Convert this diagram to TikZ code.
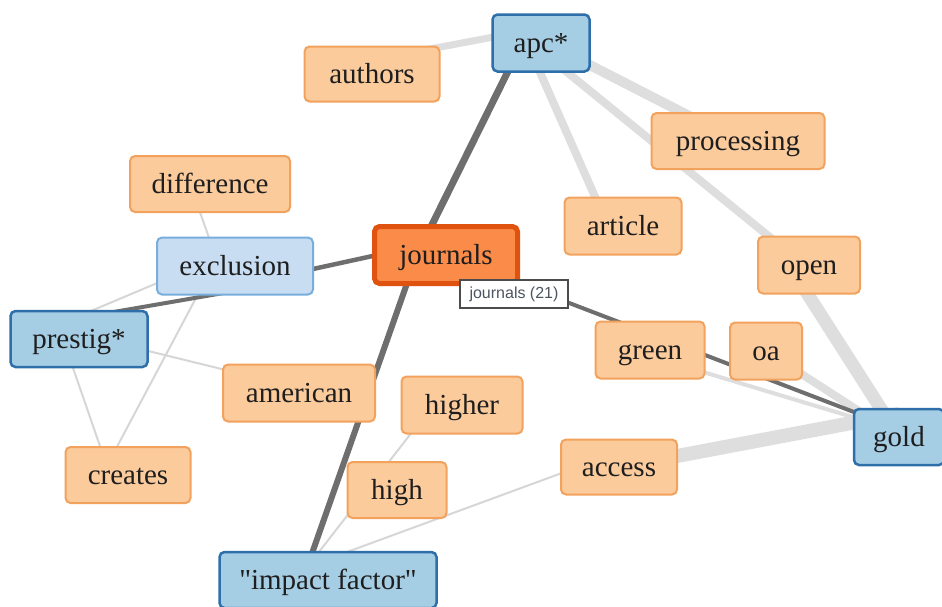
\documentclass[tikz,border=0pt]{standalone}
\usepackage{fontspec}
\setmainfont{Liberation Serif}
\newfontfamily\tipfont{Liberation Sans}
\usetikzlibrary{calc,backgrounds}
\definecolor{orfill}{HTML}{FBCB9C}
\definecolor{ordraw}{HTML}{F2A25C}
\definecolor{blfill}{HTML}{A5CDE4}
\definecolor{bldraw}{HTML}{2E6FAA}
\definecolor{lbfill}{HTML}{C9DDF2}
\definecolor{lbdraw}{HTML}{78AEDB}
\definecolor{jfill}{HTML}{FA8B48}
\definecolor{jdraw}{HTML}{E0520F}
\definecolor{txt}{HTML}{1E1E1E}
\definecolor{edark}{HTML}{6E6E6E}
\definecolor{elight}{HTML}{DEDEDE}
\definecolor{ethin}{HTML}{D6D6D6}
\definecolor{tiptxt}{HTML}{4A5560}
\tikzset{
  box/.style={rounded corners=5pt, inner sep=0pt, text=txt,
    font=\fontsize{29}{32}\selectfont, text height=20pt, text depth=2pt},
  term/.style={box, draw=ordraw, fill=orfill, line width=2pt},
  keyterm/.style={box, draw=bldraw, fill=blfill, line width=2.5pt},
  softterm/.style={box, draw=lbdraw, fill=lbfill, line width=2pt},
  hub/.style={box, draw=jdraw, fill=jfill, line width=5pt},
  tip/.style={draw=black!70, fill=white, line width=1.5pt, inner sep=0pt,
    text=tiptxt, font=\tipfont\fontsize{16}{18}\selectfont},
  darkedge/.style={draw=edark, line width=#1},
  lightedge/.style={draw=elight, line width=#1},
  thinedge/.style={draw=ethin, line width=2pt}
}
\begin{document}
\begin{tikzpicture}[x=1pt,y=-1pt]
\useasboundingbox (0,0) rectangle (942,606);
% nodes
\node[term, minimum width=135pt, minimum height=55pt] (authors) at (372,74) {authors};
\node[keyterm, minimum width=97pt, minimum height=57pt] (apc) at (541,43) {apc*};
\node[term, minimum width=160pt, minimum height=56pt] (difference) at (210,184) {difference};
\node[term, minimum width=173pt, minimum height=56pt] (processing) at (738,141) {processing};
\node[term, minimum width=117pt, minimum height=57pt] (article) at (623,226) {article};
\node[hub, minimum width=143pt, minimum height=57pt] (journals) at (446,255) {journals};
\node[softterm, minimum width=156pt, minimum height=57pt] (exclusion) at (235,266) {exclusion};
\node[term, minimum width=102pt, minimum height=57pt] (open) at (809,265) {open};
\node[keyterm, minimum width=137pt, minimum height=56pt] (prestig) at (79,339) {prestig*};
\node[term, minimum width=109pt, minimum height=57pt] (green) at (650,350) {green};
\node[term, minimum width=72pt, minimum height=57pt] (oa) at (766,351) {oa};
\node[term, minimum width=152pt, minimum height=57pt] (american) at (299,393) {american};
\node[term, minimum width=121pt, minimum height=57pt] (higher) at (462,405) {higher};
\node[keyterm, minimum width=90pt, minimum height=56pt] (gold) at (899,437) {gold};
\node[term, minimum width=116pt, minimum height=55pt] (access) at (619,467) {access};
\node[term, minimum width=125pt, minimum height=56pt] (creates) at (128,475) {creates};
\node[term, minimum width=99pt, minimum height=56pt] (high) at (397,490) {high};
\node[keyterm, minimum width=217pt, minimum height=56pt] (impact) at (328,580) {\textquotedbl impact factor\textquotedbl};
\node[tip, minimum width=108pt, minimum height=28pt] (tooltip) at (514,294) {journals (21)};
% edges
\begin{scope}[on background layer]
\draw[lightedge=7pt] ($(authors.center)+(0,-14)$) -- ($(apc.center)+(0,-15)$);
\draw[lightedge=8pt] ($(apc.center)+(-14,0)$) -- ($(article.center)+(-15,0)$);
\draw[lightedge=10pt] ($(apc.center)+(0,-3)$) -- (processing.center);
\draw[lightedge=8pt] ($(apc.center)+(0,8)$) -- ($(open.center)+(0,4)$);
\draw[lightedge=13pt] ($(open.center)+(-20,0)$) -- (gold.center);
\draw[lightedge=8pt] (oa.center) -- (gold.center);
\draw[lightedge=4pt] ($(green.center)+(0,6)$) -- ($(gold.center)+(0,-6)$);
\draw[lightedge=14pt] (access.center) -- ($(gold.center)+(0,-23)$);
\draw[thinedge] ($(difference.center)+(-20,0)$) -- ($(exclusion.center)+(-16,0)$);
\draw[thinedge] ($(prestig.center)+(0,-5)$) -- ($(american.center)+(0,-5)$);
\draw[thinedge] ($(prestig.center)+(-16,0)$) -- ($(creates.center)+(-18,0)$);
\draw[thinedge] ($(exclusion.center)+(-22,0)$) -- ($(creates.center)+(-26,0)$);
\draw[thinedge] ($(prestig.center)+(0,-23)$) -- ($(exclusion.center)+(-35,-1)$);
\draw[thinedge] ($(higher.center)+(-29,0)$) -- ($(impact.center)+(-30,-1)$);
\draw[thinedge] ($(access.center)+(0,-15)$) -- ($(impact.center)+(0,-21)$);
\draw[darkedge=7pt] ($(journals.center)+(-29,0)$) -- ($(apc.center)+(-19,0)$);
\draw[darkedge=6pt] ($(journals.center)+(-29,0)$) -- ($(impact.center)+(-25,-1)$);
\draw[darkedge=4.5pt] ($(exclusion.center)+(0,20)$) -- ($(journals.center)+(0,-15)$);
\draw[darkedge=4pt] ($(prestig.center)+(0,-21)$) -- ($(exclusion.center)+(0,25)$);
\draw[darkedge=4pt] ($(journals.center)+(24,10)$) -- ($(gold.center)+(-19,-15)$);
\end{scope}
\end{tikzpicture}
\end{document}
